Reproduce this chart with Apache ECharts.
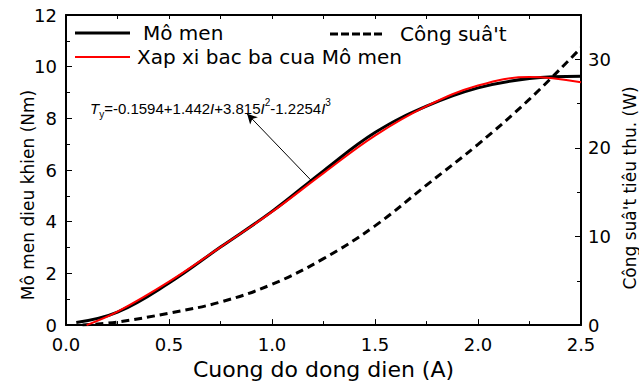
<!DOCTYPE html>
<html>
<head>
<meta charset="utf-8">
<script src="https://cdn.jsdelivr.net/npm/echarts@6/dist/echarts.min.js"></script>
<style>html,body{margin:0;padding:0;background:#fff}#c{width:639px;height:385px}</style>
</head>
<body>
<div id="c"></div>
<script>
// Data
const currentMoment = [0.05, 0.25, 0.5, 0.75, 1.0, 1.25, 1.5, 1.75, 2.0, 2.25, 2.5];
const moment = [0.1, 0.5, 1.63, 3.02, 4.4, 5.97, 7.45, 8.47, 9.18, 9.54, 9.63];
const currentFit = [0.1, 0.25, 0.5, 0.75, 1.0, 1.25, 1.5, 1.75, 2.0, 2.25, 2.5];
const momentFit = [0.0, 0.52, 1.68, 3.02, 4.38, 5.88, 7.33, 8.47, 9.27, 9.6, 9.4];
const currentPower = [0.08, 0.25, 0.5, 0.75, 1.0, 1.25, 1.5, 1.75, 2.0, 2.25, 2.5];
const power = [0.0, 0.35, 1.35, 2.6, 4.6, 7.5, 11.2, 15.8, 20.4, 25.5, 31.3];
const xTickLabels = ['0.0', '0.5', '1.0', '1.5', '2.0', '2.5'];
const yLeftTickLabels = ['0', '2', '4', '6', '8', '10', '12'];
const yRightTickLabels = ['0', '10', '20', '30'];
const seriesNames = ['Mô men', 'Xap xi bac ba cua Mô men', 'Công suâ\'t'];
const xTitle = 'Cuong do dong dien (A)';
const yLeftTitle = 'Mô men dieu khien (Nm)';
const yRightTitle = 'Công suâ\'t tiêu thu. (W)';
const arrowFrom = [1.19, 5.6];
const arrowTo = [0.879, 8.18];

const pairs = (xs, ys) => xs.map((x, i) => [x, ys[i]]);
const FONT = 'DejaVu Sans';
const axisLineStyle = { color: '#000', width: 2 };
const tickStyle = { color: '#000', width: 1 };
const dashIcon = 'path://M0,0h8v3h-8zM11,0h8v3h-8zM22,0h8v3h-8zM33,0h8v3h-8zM44,0h8v3h-8z';

const chart = echarts.init(document.getElementById('c'), null, { renderer: 'svg' });
chart.setOption({
  animation: false,
  backgroundColor: '#fff',
  textStyle: { fontFamily: FONT, color: '#000' },
  grid: { left: 66, right: 58, top: 15, bottom: 56 },
  xAxis: [{
    type: 'value', min: 0, max: 2.5, interval: 0.5, position: 'bottom',
    name: xTitle, nameLocation: 'middle', nameGap: 25,
    nameTextStyle: { fontFamily: FONT, fontSize: 22, color: '#000' },
    axisLine: { onZero: false, lineStyle: axisLineStyle },
    axisTick: { inside: true, length: 6, lineStyle: tickStyle },
    minorTick: { show: true, splitNumber: 2, length: 4, lineStyle: tickStyle },
    axisLabel: { margin: 12, fontSize: 18, lineHeight: 14, color: '#000', fontFamily: FONT,
      formatter: v => xTickLabels[Math.round(v / 0.5)] },
    splitLine: { show: false }
  }, {
    type: 'value', min: 0, max: 2.5, interval: 0.5, position: 'top',
    axisLine: { onZero: false, lineStyle: axisLineStyle },
    axisTick: { inside: true, length: 4, lineStyle: tickStyle },
    minorTick: { show: true, splitNumber: 2, length: 4, lineStyle: tickStyle },
    axisLabel: { show: false },
    splitLine: { show: false }
  }],
  yAxis: [{
    type: 'value', min: 0, max: 12, interval: 2, position: 'left',
    axisLine: { show: true, onZero: false, lineStyle: axisLineStyle },
    axisTick: { inside: true, length: 6, lineStyle: tickStyle },
    minorTick: { show: true, splitNumber: 2, length: 4, lineStyle: tickStyle },
    axisLabel: { margin: 9, fontSize: 18, lineHeight: 14, padding: [0, 0, 4, 0], color: '#000', fontFamily: FONT,
      formatter: v => yLeftTickLabels[Math.round(v / 2)] },
    splitLine: { show: false }
  }, {
    type: 'value', min: 0, max: 35, interval: 10, position: 'right',
    axisLine: { show: true, onZero: false, lineStyle: axisLineStyle },
    axisTick: { inside: true, length: 6, lineStyle: tickStyle },
    minorTick: { show: true, splitNumber: 2, length: 4, lineStyle: tickStyle },
    axisLabel: { margin: 7, fontSize: 18, lineHeight: 14, padding: [0, 0, 4, 0], color: '#000', fontFamily: FONT, showMaxLabel: false,
      formatter: v => { const i = Math.round(v / 10); return (v % 10 === 0 && i < yRightTickLabels.length) ? yRightTickLabels[i] : ''; } },
    splitLine: { show: false }
  }],
  legend: [{
    data: [{ name: seriesNames[0], icon: 'rect' }], left: 75, top: 23, padding: 0,
    itemWidth: 55, itemHeight: 3, symbolKeepAspect: false,
    textStyle: { fontFamily: FONT, fontSize: 20, color: '#000', padding: [0, 0, 0, 8] }
  }, {
    data: [{ name: seriesNames[1], icon: 'rect' }], left: 75, top: 47, padding: 0,
    itemWidth: 55, itemHeight: 2, symbolKeepAspect: false,
    textStyle: { fontFamily: FONT, fontSize: 20, color: '#000', padding: [0, 0, 0, 2] }
  }, {
    data: [{ name: seriesNames[2], icon: dashIcon }], left: 330, top: 24, padding: 0,
    itemWidth: 52, itemHeight: 3, symbolKeepAspect: false,
    textStyle: { fontFamily: FONT, fontSize: 20, color: '#000', padding: [0, 0, 0, 13] }
  }],
  series: [{
    name: seriesNames[0], type: 'line', xAxisIndex: 0, yAxisIndex: 0,
    data: pairs(currentMoment, moment), smooth: 0.4, symbol: 'none',
    lineStyle: { color: '#000', width: 3 }, itemStyle: { color: '#000' }, z: 2
  }, {
    name: seriesNames[1], type: 'line', xAxisIndex: 0, yAxisIndex: 0,
    data: pairs(currentFit, momentFit), smooth: 0.4, symbol: 'none',
    lineStyle: { color: '#ff0000', width: 2 }, itemStyle: { color: '#ff0000' }, z: 3,
    markLine: {
      silent: true, animation: false,
      symbol: ['none', 'arrow'], symbolSize: [8, 10],
      lineStyle: { color: '#000', width: 1, type: 'solid' },
      label: { show: false },
      data: [[{ coord: arrowFrom }, { coord: arrowTo }]]
    }
  }, {
    name: seriesNames[2], type: 'line', xAxisIndex: 0, yAxisIndex: 1,
    data: pairs(currentPower, power), smooth: 0.4, symbol: 'none',
    lineStyle: { color: '#000', width: 3, type: [8, 5] }, itemStyle: { color: '#000' }, z: 2
  }],
  graphic: [{
    type: 'text', left: 90, top: 97,
    style: {
      text: '{it|T}{sub|y}{n|=-0.1594+1.442}{it|I}{n|+3.815}{it|I}{sup|2}{n|-1.2254}{it|I}{sup|3}',
      rich: {
        n: { fontFamily: 'Liberation Sans', fontSize: 15, lineHeight: 22, verticalAlign: 'middle', fill: '#000' },
        it: { fontFamily: 'Liberation Sans', fontStyle: 'italic', fontSize: 15, lineHeight: 22, verticalAlign: 'middle', fill: '#000' },
        sub: { fontFamily: 'Liberation Sans', fontSize: 10, lineHeight: 22, verticalAlign: 'bottom', fill: '#000' },
        sup: { fontFamily: 'Liberation Sans', fontSize: 10, lineHeight: 22, verticalAlign: 'top', fill: '#000' }
      }
    }
  }, {
    type: 'text', x: 28, y: 195, rotation: Math.PI / 2,
    style: { text: yLeftTitle, fontFamily: FONT, fontSize: 17, fill: '#000', align: 'center', verticalAlign: 'middle' }
  }, {
    type: 'text', x: 630, y: 188, rotation: Math.PI / 2,
    style: { text: yRightTitle, fontFamily: FONT, fontSize: 17, fill: '#000', align: 'center', verticalAlign: 'middle' }
  }]
});
</script>
</body>
</html>
